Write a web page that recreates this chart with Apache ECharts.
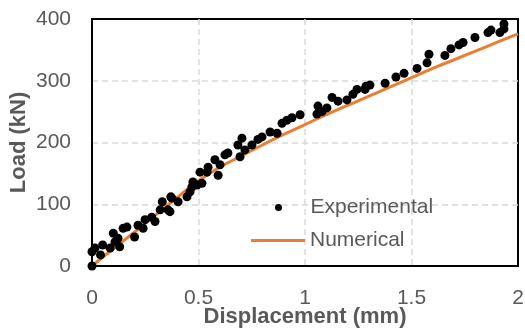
<!DOCTYPE html>
<html>
<head>
<meta charset="utf-8">
<script src="https://cdn.jsdelivr.net/npm/echarts@6/dist/echarts.min.js"></script>
<style>
  html, body { margin: 0; padding: 0; background: #fff; }
  #chart { width: 525px; height: 332px; }
</style>
</head>
<body>
<div id="chart"></div>
<script>
// values
const expDisp = [0, 0, 0.014, 0.04, 0.05, 0.085, 0.1, 0.108, 0.122, 0.13, 0.146, 0.164, 0.2, 0.216, 0.24, 0.249,
  0.28, 0.296, 0.32, 0.33, 0.357, 0.366, 0.37, 0.375, 0.404, 0.446, 0.46, 0.469, 0.474, 0.493, 0.507, 0.516,
  0.54, 0.545, 0.577, 0.592, 0.601, 0.624, 0.638, 0.685, 0.695, 0.704, 0.718, 0.751, 0.779, 0.798, 0.836,
  0.869, 0.892, 0.915, 0.939, 0.977, 1.056, 1.061, 1.08, 1.103, 1.127, 1.155, 1.197, 1.225, 1.244, 1.282,
  1.286, 1.305, 1.376, 1.427, 1.465, 1.526, 1.573, 1.582, 1.657, 1.685, 1.723, 1.742, 1.798, 1.859, 1.873,
  1.915, 1.934, 1.934]
const expLoad = [0, 23, 29, 18, 34, 29, 53, 39, 45, 31, 61, 63, 47, 66, 61, 75,
  79, 72, 91, 104, 91, 88, 112, 110, 104, 112, 120, 128, 136, 131, 152, 134,
  152, 160, 172, 147, 164, 180, 183, 196, 177, 207, 188, 196, 205, 209, 217,
  215, 231, 236, 240, 245, 246, 259, 250, 256, 273, 267, 269, 278, 286, 286,
  291, 293, 296, 306, 312, 320, 329, 343, 341, 352, 358, 362, 370, 378, 382,
  378, 384, 392]

const numDisp = [0, 0.1, 0.2, 0.3, 0.4, 0.5, 0.6, 0.7, 0.8, 0.9, 1.0, 1.1, 1.2, 1.3, 1.4, 1.5, 1.6, 1.7, 1.8, 1.9, 2.0]
const numLoad = [0, 28, 55, 83, 111, 138, 160, 178, 196, 213, 229, 245, 260, 275, 290, 305, 320, 334, 348, 362, 376]

const chart = echarts.init(document.getElementById('chart'))

const textColor = '#595959'
const font = 'Liberation Sans'
const split = {
  showMinLine: false,
  showMaxLine: false,
  lineStyle: { color: '#d9d9d9', type: [6, 4], width: 1.5 }
}

chart.setOption({
  animation: false,
  grid: {
    left: 92, right: 7, top: 19, bottom: 66,
    outerBoundsMode: 'none',
    containLabel: false,
    show: true,
    borderColor: '#000',
    borderWidth: 2
  },
  legend: [
    {
      data: ['Experimental'],
      left: 275, top: 197, padding: 0,
      itemWidth: 54, itemHeight: 7,
      textStyle: { color: textColor, fontSize: 21, fontFamily: font }
    },
    {
      data: [{ name: 'Numerical', icon: 'rect' }],
      left: 251, top: 230, padding: 0,
      itemWidth: 54, itemHeight: 3,
      textStyle: { color: textColor, fontSize: 21, fontFamily: font }
    }
  ],
  xAxis: {
    type: 'value',
    min: 0, max: 2, interval: 0.5,
    name: 'Displacement (mm)',
    nameLocation: 'middle',
    nameGap: 40,
    nameMoveOverlap: false,
    nameTextStyle: { color: textColor, fontSize: 22, fontWeight: 'bold', fontFamily: font },
    axisLine: { lineStyle: { color: '#000', width: 2 } },
    axisTick: { show: false },
    axisLabel: { color: textColor, fontSize: 21, fontFamily: font, margin: 22 },
    splitLine: split
  },
  yAxis: {
    type: 'value',
    min: 0, max: 400, interval: 100,
    name: 'Load (kN)',
    nameLocation: 'middle',
    nameGap: 62,
    nameMoveOverlap: false,
    nameTextStyle: { color: textColor, fontSize: 22, fontWeight: 'bold', fontFamily: font },
    axisLine: { show: true, lineStyle: { color: '#000', width: 2 } },
    axisTick: { show: false },
    axisLabel: { color: textColor, fontSize: 21, fontFamily: font, margin: 21 },
    splitLine: split
  },
  series: [
    {
      name: 'Experimental',
      type: 'scatter',
      data: expDisp.map((x, i) => [x, expLoad[i]]),
      symbolSize: 9,
      itemStyle: { color: '#000', opacity: 1 },
      z: 3
    },
    {
      name: 'Numerical',
      type: 'line',
      data: numDisp.map((x, i) => [x, numLoad[i]]),
      smooth: true,
      symbol: 'none',
      lineStyle: { color: '#ed7d31', width: 3 },
      itemStyle: { color: '#ed7d31' },
      z: 2
    }
  ]
})
</script>
</body>
</html>
